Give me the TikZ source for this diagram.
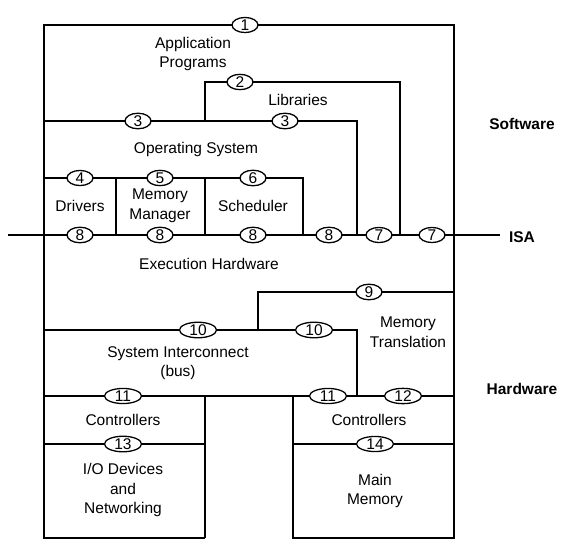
\documentclass[tikz,border=0pt]{standalone}
\usepackage{fontspec}
\setmainfont{Liberation Sans}
\usetikzlibrary{shapes.geometric,backgrounds}
\begin{document}
\begin{tikzpicture}[x=1pt,y=-1pt,
 lbl/.style={font=\fontsize{15.5}{19.5}\selectfont, align=center, inner sep=0},
 num/.style={ellipse, draw, fill=white, line width=1.3pt, inner sep=0, minimum width=26pt, minimum height=15pt, font=\fontsize{15.5}{18}\selectfont},
 numw/.style={num, minimum width=37pt},
 wire/.style={line width=1.3pt},
 side/.style={font=\bfseries\fontsize{15.5}{18}\selectfont, inner sep=0}]
\useasboundingbox (0,0) rectangle (567,543);

% ellipse labels
\node[num] (e1) at (245,25) {1};
\node[num] (e2) at (240,82) {2};
\node[num] (e3a) at (138,121) {3};
\node[num] (e3b) at (285,121) {3};
\node[num] (e4) at (80,178) {4};
\node[num] (e5) at (160,178) {5};
\node[num] (e6) at (253,178) {6};
\node[num] (e8a) at (80,235) {8};
\node[num] (e8b) at (160,235) {8};
\node[num] (e8c) at (253,235) {8};
\node[num] (e8d) at (329,235) {8};
\node[num] (e7a) at (379,235) {7};
\node[num] (e7b) at (432,235) {7};
\node[num] (e9) at (369,292) {9};
\node[numw] (e10a) at (198,330) {10};
\node[numw] (e10b) at (314,330) {10};
\node[numw] (e11a) at (123,396) {11};
\node[numw] (e11b) at (328,396) {11};
\node[numw] (e12) at (403,396) {12};
\node[numw] (e13) at (123,444) {13};
\node[numw] (e14) at (375,444) {14};

% texts
\node[lbl] (app) at (193,54) {Application\\Programs};
\node[lbl] (lib) at (298,100) {Libraries};
\node[lbl] (os) at (196,149) {Operating System};
\node[lbl] (drv) at (80,206) {Drivers};
\node[lbl] (mm) at (160,206) {Memory\\Manager};
\node[lbl] (sch) at (253,206) {Scheduler};
\node[lbl] (exe) at (209,264) {Execution Hardware};
\node[lbl] (mt) at (408,332) {Memory\\Translation};
\node[lbl] (si) at (178,363) {System Interconnect\\(bus)};
\node[lbl] (ctl) at (123,420) {Controllers};
\node[lbl] (io) at (123,490) {I/O Devices\\and\\Networking};
\node[lbl] (ctr) at (369,420) {Controllers};
\node[lbl] (mem) at (375,491) {Main\\Memory};
\node[side] (sw) at (522,124) {Software};
\node[side] (isa) at (522,237) {ISA};
\node[side] (hw) at (522,389) {Hardware};

\begin{scope}[on background layer]
% outer frame
\draw[wire] (205,538) -- (44,538) -- (44,25) -- (454,25) -- (454,538) -- (293,538) -- (293,396);
\draw[wire] (205,538) -- (205,396);
% libraries (2)
\draw[wire] (205,121) -- (205,82) -- (400,82) -- (400,235);
% OS (3)
\draw[wire] (44,121) -- (357,121) -- (357,235);
% 4-6
\draw[wire] (44,178) -- (303,178) -- (303,235);
\draw[wire] (116,178) -- (116,235);
\draw[wire] (205,178) -- (205,235);
% ISA line
\draw[wire] (8,235) -- (500,235);
% 9
\draw[wire] (258,330) -- (258,292) -- (454,292);
% 10
\draw[wire] (44,330) -- (357,330) -- (357,396);
% 11/12
\draw[wire] (44,396) -- (454,396);
% 13, 14
\draw[wire] (44,444) -- (205,444);
\draw[wire] (293,444) -- (454,444);
\end{scope}
\end{tikzpicture}
\end{document}
